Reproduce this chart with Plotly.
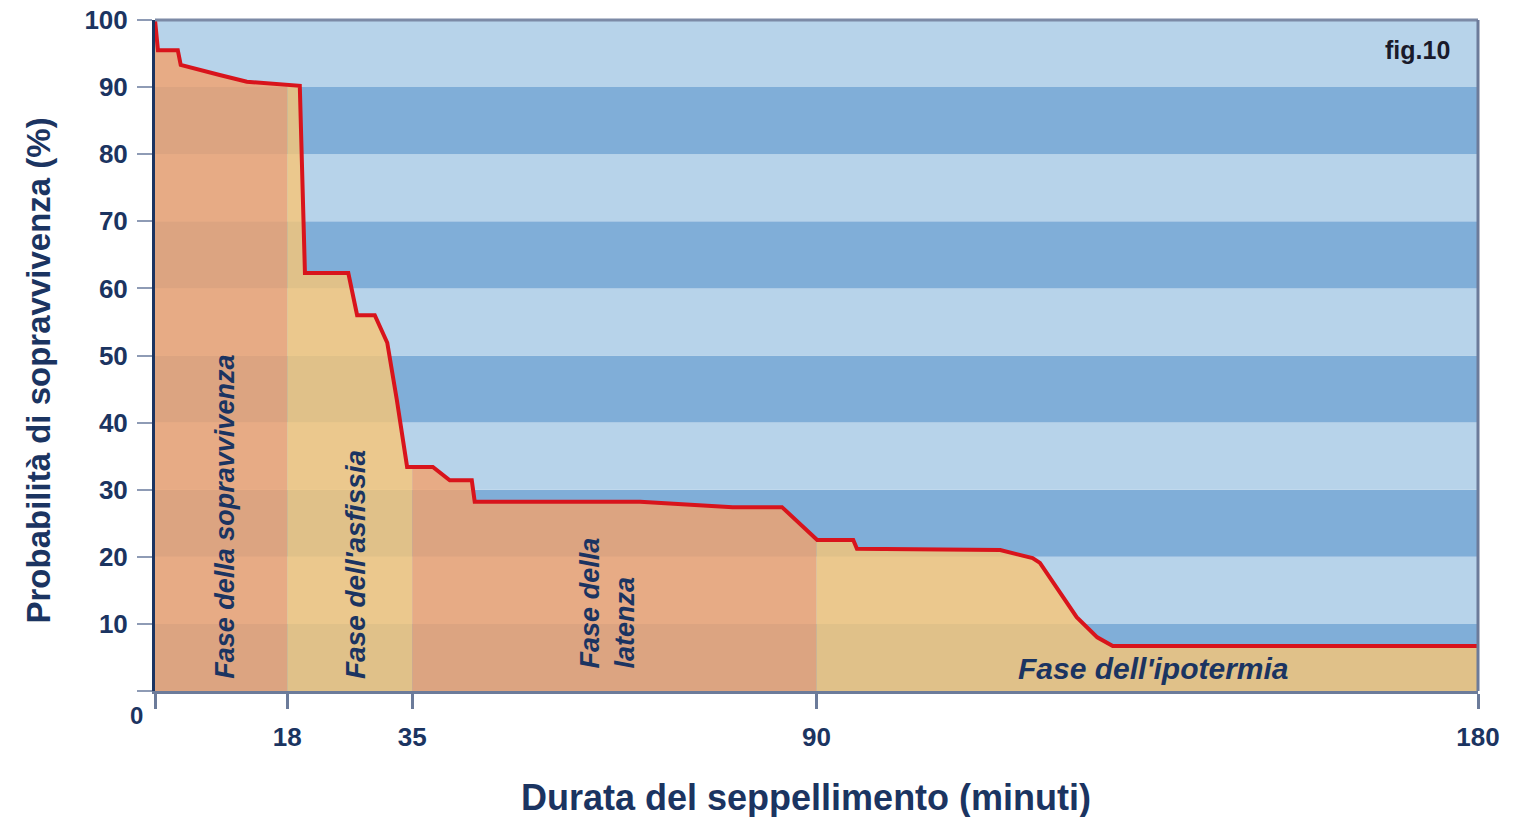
import numpy as np
import plotly.graph_objects as go

# Survival curve (minutes, % survival)
minutes = [0, 0.4, 3.1, 3.5, 8.8, 12.5, 19.7, 20.4, 26.3, 27.5, 29.9, 31.6, 32.9, 34.3,
           37.8, 40.1, 43.1, 43.5, 66.0, 78.6, 85.3, 90.1, 95.0, 95.5, 115.0, 119.4,
           120.4, 122.7, 125.4, 128.2, 130.3, 180.0]
survival = [100, 95.5, 95.5, 93.3, 91.8, 90.8, 90.2, 62.3, 62.3, 56.0, 56.0, 51.9, 43.4, 33.4,
            33.4, 31.4, 31.4, 28.2, 28.2, 27.4, 27.4, 22.5, 22.5, 21.2, 21.0, 19.8,
            19.1, 15.4, 11.0, 8.0, 6.7, 6.7]

# phases: start, end (minutes)
phase_start = [0, 18, 35, 90]
phase_end = [18, 35, 90, 180]
phase_fill = ["rgba(242,161,107,0.8)", "rgba(248,197,117,0.8)",
              "rgba(242,161,107,0.8)", "rgba(248,197,117,0.8)"]

x_ticks = [0, 18, 35, 90, 180]
x_ticktext = ["", "18", "35", "90", "180"]
y_ticks = [0, 10, 20, 30, 40, 50, 60, 70, 80, 90, 100]
y_ticktext = [""] + [str(v) for v in y_ticks[1:]]

NAVY = "#1b3461"
FONT = "Liberation Sans, Arial"

fig = go.Figure()

# background stripes
for i in range(10):
    fig.add_shape(type="rect", xref="x", yref="y", x0=0, x1=180, y0=i * 10, y1=(i + 1) * 10,
                  fillcolor="#80aed8" if i % 2 == 0 else "#b7d3ea", line_width=0, layer="below")

mx = np.array(minutes)
sv = np.array(survival)
for a, b, col in zip(phase_start, phase_end, phase_fill):
    inside = (mx > a) & (mx < b)
    xs = [a] + list(mx[inside]) + [b]
    ys = [np.interp(a, mx, sv)] + list(sv[inside]) + [np.interp(b, mx, sv)]
    fig.add_trace(go.Scatter(x=xs, y=ys, mode="lines", line=dict(width=0),
                             fill="tozeroy", fillcolor=col, hoverinfo="skip", showlegend=False))

fig.add_trace(go.Scatter(x=minutes, y=survival, mode="lines",
                         line=dict(color="#d8141c", width=4), showlegend=False))

# phase labels
def lab_font(size):
    return dict(family=FONT, size=size, color=NAVY, weight="bold", style="italic")

fig.add_annotation(x=9.5, y=1.5, text="Fase della sopravvivenza", textangle=-90, showarrow=False,
                   xanchor="center", yanchor="bottom", font=lab_font(27))
fig.add_annotation(x=27.3, y=1.5, text="Fase dell'asfissia", textangle=-90, showarrow=False,
                   xanchor="center", yanchor="bottom", font=lab_font(28))
fig.add_annotation(x=61.5, y=3, text="Fase della<br>latenza", textangle=-90, showarrow=False,
                   xanchor="center", yanchor="bottom", align="left", font=lab_font(27))
fig.add_annotation(x=135.8, y=3.4, text="Fase dell'ipotermia", showarrow=False,
                   xanchor="center", yanchor="middle", font=lab_font(30))
fig.add_annotation(x=171.8, y=95.5, text="fig.10", showarrow=False, xanchor="center",
                   font=dict(family=FONT, size=25, color="#1a1a2a", weight="bold"))
fig.add_annotation(x=0, y=0, text="<b>0</b>", showarrow=False, xanchor="right", yanchor="top",
                   xshift=-10, yshift=-9, font=dict(family=FONT, size=24, color=NAVY))

# axis titles
fig.add_annotation(xref="paper", yref="paper", x=0, y=0.5, xshift=-117, yshift=-15,
                   xanchor="center", yanchor="middle",
                   text="Probabilità di sopravvivenza (%)", textangle=-90, showarrow=False,
                   font=dict(family=FONT, size=33, color=NAVY, weight="bold"))
fig.add_annotation(xref="paper", yref="paper", x=0.5, y=0, xshift=-11, yshift=-106,
                   xanchor="center", yanchor="middle",
                   text="Durata del seppellimento (minuti)", showarrow=False,
                   font=dict(family=FONT, size=36, color=NAVY, weight="bold"))

# frame lines top / right
fig.add_shape(type="line", xref="paper", yref="paper", x0=0, x1=1, y0=1, y1=1,
              line=dict(color="#7c8aa6", width=3))
fig.add_shape(type="line", xref="paper", yref="paper", x0=1, x1=1, y0=0, y1=1,
              line=dict(color="#6c7b9a", width=3))

fig.update_layout(
    width=1519, height=817,
    margin=dict(l=147, r=49, t=12, b=134),
    paper_bgcolor="white", plot_bgcolor="white",
    showlegend=False,
    xaxis=dict(range=[0, 180], tickvals=x_ticks, ticktext=x_ticktext, ticks="outside",
               ticklen=15, tickwidth=3, tickcolor="#6c7b9a", showgrid=False, zeroline=False,
               showline=True, linecolor="#6c7b9a", linewidth=3, ticklabelstandoff=6,
               ticklabeloverflow="allow", automargin=False,
               tickfont=dict(family=FONT, size=26, color=NAVY, weight="bold")),
    yaxis=dict(range=[0, 100], tickvals=y_ticks, ticktext=y_ticktext, ticks="outside",
               ticklen=15, tickwidth=2, tickcolor="#8e9bb5", showgrid=False, zeroline=False,
               showline=True, linecolor=NAVY, linewidth=3, ticklabelstandoff=4,
               ticklabeloverflow="allow", automargin=False,
               tickfont=dict(family=FONT, size=26, color=NAVY, weight="bold")),
)

fig.write_html("out.html")
